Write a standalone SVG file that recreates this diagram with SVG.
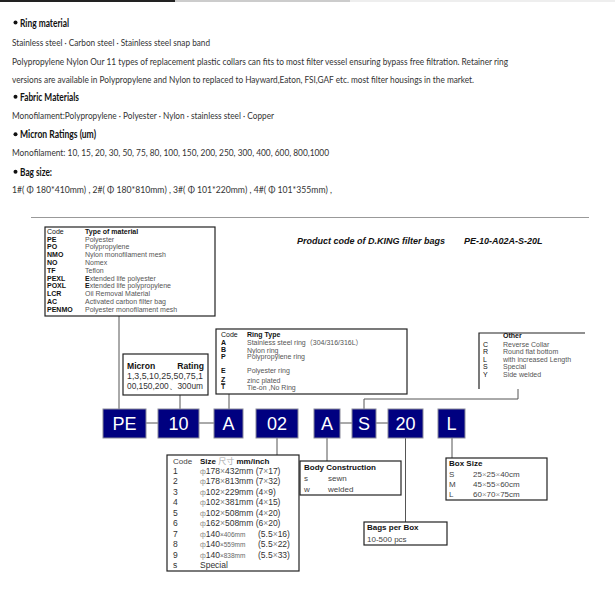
<svg xmlns="http://www.w3.org/2000/svg" width="615" height="600" viewBox="0 0 615 600">
<style>
.t{font-family:Lato,"Liberation Sans",sans-serif;font-size:10.2px;fill:#333}
.h{font-family:Lato,"Liberation Sans",sans-serif;font-size:11px;font-weight:bold;fill:#111}
.a{font-family:"Liberation Sans",Arial,sans-serif}
.c7{font-size:7px;fill:#111;font-weight:bold}
.d7{font-size:7px;fill:#555}
.n7{font-size:7px;fill:#111}
.b8{font-size:8px;font-weight:bold;fill:#111}
.r8{font-size:8px;fill:#444}
.r9{font-size:8.6px;fill:#333}
.box{fill:#fff;stroke:#222;stroke-width:1.2}
.nb{fill:#000080;stroke:#8a8a9a;stroke-width:1}
.nt{font-family:"Liberation Sans",Arial,sans-serif;font-size:18px;fill:#fff;text-anchor:middle}
.ln{fill:none;stroke:#555;stroke-width:1}
</style>
<rect x="0" y="0" width="615" height="600" fill="#fff"/>
<rect x="0" y="0" width="175" height="2" fill="#222"/>
<rect x="175" y="0" width="175" height="2" fill="#ccc"/>
<rect x="350" y="0" width="265" height="2" fill="#eee"/>

<g id="intro">
<circle cx="15.5" cy="22.5" r="2" fill="#111"/>
<text class="h" x="20" y="26.5" textLength="49" lengthAdjust="spacingAndGlyphs">Ring material</text>
<text class="t" x="12" y="45.5" textLength="198" lengthAdjust="spacingAndGlyphs">Stainless steel · Carbon steel · Stainless steel snap band</text>
<text class="t" x="12" y="65" textLength="496" lengthAdjust="spacingAndGlyphs">Polypropylene Nylon Our 11 types of replacement plastic collars can fits to most filter vessel ensuring bypass free filtration. Retainer ring</text>
<text class="t" x="12" y="83.3" textLength="462" lengthAdjust="spacingAndGlyphs">versions are available in Polypropylene and Nylon to replaced to Hayward,Eaton, FSI,GAF etc. most filter housings in the market.</text>
<circle cx="15.5" cy="96.7" r="2" fill="#111"/>
<text class="h" x="20" y="100.7" textLength="59" lengthAdjust="spacingAndGlyphs">Fabric Materials</text>
<text class="t" x="12" y="119" textLength="262" lengthAdjust="spacingAndGlyphs">Monofilament:Polypropylene · Polyester · Nylon · stainless steel · Copper</text>
<circle cx="15.5" cy="134.3" r="2" fill="#111"/>
<text class="h" x="20" y="138.3" textLength="76" lengthAdjust="spacingAndGlyphs">Micron Ratings (um)</text>
<text class="t" x="12" y="156.3" textLength="317" lengthAdjust="spacingAndGlyphs">Monofilament:  10, 15, 20, 30, 50, 75, 80, 100, 150, 200, 250, 300, 400, 600, 800,1000</text>
<circle cx="15.5" cy="171.7" r="2" fill="#111"/>
<text class="h" x="20" y="175.7" textLength="32" lengthAdjust="spacingAndGlyphs">Bag size:</text>
<text class="t" x="12" y="193.3" textLength="320" lengthAdjust="spacingAndGlyphs">1#( Φ 180*410mm) , 2#( Φ 180*810mm) , 3#( Φ 101*220mm) , 4#( Φ 101*355mm) ,</text>
</g>

<line x1="31" y1="217.5" x2="589" y2="217.5" stroke="#999" stroke-width="1"/>

<g id="title" class="a">
<text x="297" y="244" font-size="9" font-weight="bold" font-style="italic" fill="#111">Product code of D.KING filter bags</text>
<text x="464" y="244" font-size="9" font-weight="bold" font-style="italic" fill="#111">PE-10-A02A-S-20L</text>
</g>

<g id="connectors">
<path class="ln" d="M119,316V409"/>
<path class="ln" d="M180,395V409"/>
<path class="ln" d="M229,394V409"/>
<path class="ln" d="M146,423H158M199,423H214"/>
<path class="ln" d="M340,423H352M376,423H388"/>
<path class="ln" d="M364,409V399H518V389"/>
<path class="ln" d="M277,438V455"/>
<path class="ln" d="M327,438V461"/>
<path class="ln" d="M405.5,438V522"/>
<path class="ln" d="M452,438V458"/>
</g>

<g id="material-table" class="a">
<rect class="box" x="45" y="227" width="170" height="89"/>
<text class="n7" x="47" y="233.5">Code</text>
<text class="c7" x="85" y="233.5">Type of material</text>
<text class="c7" x="47" y="241.5">PE</text><text class="d7" x="85" y="241.5">Polyester</text>
<text class="c7" x="47" y="249.3">PO</text><text class="d7" x="85" y="249.3">Polypropylene</text>
<text class="c7" x="47" y="257.1">NMO</text><text class="d7" x="85" y="257.1">Nylon monofilament mesh</text>
<text class="c7" x="47" y="264.9">NO</text><text class="d7" x="85" y="264.9">Nomex</text>
<text class="c7" x="47" y="272.7">TF</text><text class="d7" x="85" y="272.7">Teflon</text>
<text class="c7" x="47" y="280.5">PEXL</text><text class="d7" x="85" y="280.5"><tspan fill="#111" font-weight="bold">E</tspan>xtended life polyester</text>
<text class="c7" x="47" y="288.3">POXL</text><text class="d7" x="85" y="288.3"><tspan fill="#111" font-weight="bold">E</tspan>xtended life polypropylene</text>
<text class="c7" x="47" y="296.1">LCR</text><text class="d7" x="85" y="296.1">Oil Removal Material</text>
<text class="c7" x="47" y="303.9">AC</text><text class="d7" x="85" y="303.9">Activated carbon filter bag</text>
<text class="c7" x="47" y="311.7">PENMO</text><text class="d7" x="85" y="311.7">Polyester monofilament mesh</text>
</g>

<g id="ring-table" class="a">
<rect class="box" x="216" y="329" width="191" height="65"/>
<text class="n7" x="221" y="336.5">Code</text>
<text class="c7" x="247" y="336.5">Ring Type</text>
<text class="c7" x="221" y="344.5">A</text><text class="d7" x="247" y="344.8">Stainless steel ring<tspan font-family="'Noto Sans CJK SC',sans-serif">（</tspan>304/316/316L<tspan font-family="'Noto Sans CJK SC',sans-serif">）</tspan></text>
<text class="c7" x="221" y="352.2">B</text><text class="d7" x="247" y="352.8">Nylon ring</text>
<text class="c7" x="221" y="358.5">P</text><text class="d7" x="247" y="359">Polypropylene ring</text>
<text class="c7" x="221" y="372.5">E</text><text class="d7" x="247" y="372.8">Polyester ring</text>
<text class="c7" x="221" y="382.3" text-decoration="underline">Z</text><text class="d7" x="247" y="382.5">zinc plated</text>
<text class="c7" x="221" y="389">T</text><text class="d7" x="247" y="389.5">Tie-on ,No Ring</text>
</g>

<g id="micron-box" class="a">
<rect class="box" x="123" y="354" width="85" height="41"/>
<text x="127" y="369" font-size="8.6" font-weight="bold" fill="#111">Micron</text>
<text x="204" y="369" font-size="8.6" font-weight="bold" fill="#111" text-anchor="end">Rating</text>
<text class="r9" x="127" y="379" textLength="76" lengthAdjust="spacingAndGlyphs">1,3,5,10,25,50,75,1</text>
<text class="r9" x="127" y="389" textLength="76" lengthAdjust="spacingAndGlyphs">00,150,200、300um</text>
</g>

<g id="other-box" class="a">
<path d="M479,389V333H585" fill="none" stroke="#222" stroke-width="1.2"/>
<text class="c7" x="503" y="337.5">Other</text>
<text class="n7" x="483" y="346.5">C</text><text class="d7" x="503" y="346.5">Reverse Collar</text>
<text class="n7" x="483" y="354.2">R</text><text class="d7" x="503" y="354.2">Round flat bottom</text>
<text class="n7" x="483" y="361.5">L</text><text class="d7" x="503" y="361.5">with increased Length</text>
<text class="n7" x="483" y="369.2">S</text><text class="d7" x="503" y="369.2">Special</text>
<text class="n7" x="483" y="376.5">Y</text><text class="d7" x="503" y="376.5">Side welded</text>
</g>

<g id="code-PE"><rect class="nb" x="103" y="409" width="43" height="29"/><text class="nt" x="124.5" y="430">PE</text></g>
<g id="code-10"><rect class="nb" x="158" y="409" width="41" height="29"/><text class="nt" x="178.5" y="430">10</text></g>
<g id="code-A"><rect class="nb" x="214" y="409" width="29" height="29"/><text class="nt" x="228.5" y="430">A</text></g>
<g id="code-02"><rect class="nb" x="256" y="409" width="42" height="29"/><text class="nt" x="277" y="430">02</text></g>
<g id="code-A2"><rect class="nb" x="314" y="409" width="26" height="29"/><text class="nt" x="327" y="430">A</text></g>
<g id="code-S"><rect class="nb" x="352" y="409" width="24" height="29"/><text class="nt" x="364" y="430">S</text></g>
<g id="code-20"><rect class="nb" x="388" y="409" width="35" height="29"/><text class="nt" x="405.5" y="430">20</text></g>
<g id="code-L"><rect class="nb" x="438" y="409" width="27" height="29"/><text class="nt" x="451.5" y="430">L</text></g>

<g id="size-table" class="a">
<rect class="box" x="167" y="455" width="132" height="116"/>
<text class="r8" x="173" y="464" fill="#222">Code</text>
<text x="200" y="464" font-size="8" font-weight="bold" fill="#111">Size <tspan font-weight="normal" fill="#aaa" font-family="'Noto Sans CJK SC',sans-serif">尺寸</tspan> mm/inch</text>
<g font-size="8.5" fill="#333">
<text x="173" y="473.5">1</text><text x="200" y="473.5"><tspan fill="#888" font-size="7">ф</tspan>178<tspan fill="#888">×</tspan>432mm (7<tspan fill="#888">×</tspan>17)</text>
<text x="173" y="484">2</text><text x="200" y="484"><tspan fill="#888" font-size="7">ф</tspan>178<tspan fill="#888">×</tspan>813mm (7<tspan fill="#888">×</tspan>32)</text>
<text x="173" y="494.5">3</text><text x="200" y="494.5"><tspan fill="#888" font-size="7">ф</tspan>102<tspan fill="#888">×</tspan>229mm (4<tspan fill="#888">×</tspan>9)</text>
<text x="173" y="505">4</text><text x="200" y="505"><tspan fill="#888" font-size="7">ф</tspan>102<tspan fill="#888">×</tspan>381mm (4<tspan fill="#888">×</tspan>15)</text>
<text x="173" y="515.5">5</text><text x="200" y="515.5"><tspan fill="#888" font-size="7">ф</tspan>102<tspan fill="#888">×</tspan>508mm (4<tspan fill="#888">×</tspan>20)</text>
<text x="173" y="526">6</text><text x="200" y="526"><tspan fill="#888" font-size="7">ф</tspan>162<tspan fill="#888">×</tspan>508mm (6<tspan fill="#888">×</tspan>20)</text>
<text x="173" y="536.5">7</text><text x="200" y="536.5"><tspan fill="#888" font-size="7">ф</tspan>140<tspan font-size="6.5" fill="#666">×406mm</tspan></text><text x="258" y="536.5">(5.5<tspan fill="#888">×</tspan>16)</text>
<text x="173" y="547">8</text><text x="200" y="547"><tspan fill="#888" font-size="7">ф</tspan>140<tspan font-size="6.5" fill="#666">×559mm</tspan></text><text x="258" y="547">(5.5<tspan fill="#888">×</tspan>22)</text>
<text x="173" y="557.5">9</text><text x="200" y="557.5"><tspan fill="#888" font-size="7">ф</tspan>140<tspan font-size="6.5" fill="#666">×838mm</tspan></text><text x="258" y="557.5">(5.5<tspan fill="#888">×</tspan>33)</text>
<text x="173" y="568">s</text><text x="200" y="568">Special</text>
</g>
</g>

<g id="body-box" class="a">
<rect class="box" x="300" y="461" width="101" height="34" stroke-width="1.6"/>
<text class="b8" x="304" y="470">Body Construction</text>
<text class="r8" x="304" y="481">s</text><text class="r8" x="328" y="481">sewn</text>
<text class="r8" x="304" y="491.5">w</text><text class="r8" x="328" y="491.5">welded</text>
</g>

<g id="bags-box" class="a">
<rect class="box" x="364" y="522" width="83" height="23" stroke-width="1.4"/>
<text class="b8" x="367" y="530">Bags per Box</text>
<text class="r8" x="367" y="541.5">10-500 pcs</text>
</g>

<g id="boxsize-box" class="a">
<rect class="box" x="446" y="458" width="101" height="42" stroke-width="1.4"/>
<text class="b8" x="449" y="465.5">Box Size</text>
<text class="r8" x="449" y="476.5">S</text><text class="r8" x="473" y="476.5">25<tspan fill="#999">×</tspan>25<tspan fill="#999">×</tspan>40cm</text>
<text class="r8" x="449" y="487">M</text><text class="r8" x="473" y="487">45<tspan fill="#999">×</tspan>55<tspan fill="#999">×</tspan>60cm</text>
<text class="r8" x="449" y="497">L</text><text class="r8" x="473" y="497">60<tspan fill="#999">×</tspan>70<tspan fill="#999">×</tspan>75cm</text>
</g>
</svg>
